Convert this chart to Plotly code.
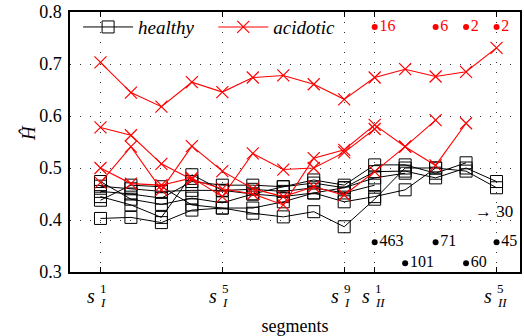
import plotly.graph_objects as go

# ---------------- data ----------------
segments = list(range(1, 15))  # s_I^1..s_I^9 -> 1..9, s_II^1..s_II^5 -> 10..14

healthy_series = [
    [0.465, 0.460, 0.455, 0.457, 0.457, 0.459, 0.455, 0.462, 0.452, 0.467],
    [0.455, 0.450, 0.442, 0.474, 0.467, 0.467, 0.464, 0.471, 0.462, 0.481, 0.490],
    [0.474, 0.440, 0.430, 0.442, 0.433, 0.450, 0.445, 0.452, 0.435, 0.445, 0.458, 0.500],
    [0.445, 0.429, 0.405, 0.487, 0.457, 0.450, 0.464, 0.477, 0.467, 0.506, 0.506, 0.490, 0.510],
    [0.438, 0.467, 0.464, 0.429, 0.423, 0.423, 0.435, 0.452, 0.462, 0.493, 0.494, 0.481, 0.500, 0.474],
    [0.403, 0.405, 0.395, 0.419, 0.423, 0.413, 0.406, 0.416, 0.387, 0.440, 0.500, 0.500, 0.494, 0.462],
]

acidotic_series = [
    [0.703, 0.645, 0.618, 0.665, 0.646, 0.674, 0.678, 0.661, 0.632, 0.674, 0.690, 0.676, 0.685, 0.731],
    [0.578, 0.563, 0.508, 0.478, 0.460, 0.450, 0.429, 0.519, 0.535, 0.583, 0.541, 0.505, 0.586],
    [0.472, 0.541, 0.458, 0.542, 0.494, 0.460, 0.445, 0.464, 0.448, 0.493, 0.541, 0.592],
    [0.500, 0.470, 0.467, 0.481, 0.445, 0.528, 0.497, 0.500, 0.530, 0.575],
]

acid_count_x = [10, 12, 13, 14]
acid_counts = [16, 6, 2, 2]
acid_count_y = [0.771, 0.771, 0.771, 0.771]

healthy_count_x = [10, 11, 12, 13, 14]
healthy_counts = [463, 101, 71, 60, 45]
healthy_count_y = [0.357, 0.317, 0.357, 0.317, 0.357]

beyond_label = "→ 30"
beyond_x = 13.93
beyond_y = 0.416

tick_pos = [1, 5, 9, 10, 14]
tick_sup = ["1", "5", "9", "1", "5"]
tick_sub = ["I", "I", "I", "II", "II"]

FONT = "Liberation Serif"
NB = "\u00a0"

fig = go.Figure()

for i, ys in enumerate(healthy_series):
    fig.add_trace(go.Scatter(
        x=segments[:len(ys)], y=ys, mode="lines+markers",
        line=dict(color="black", width=1),
        marker=dict(symbol="square-open", size=12, color="black", line=dict(width=1, color="black")),
        name="<i>healthy</i>" + NB * 3, legendgroup="h", showlegend=(i == 0),
    ))

for i, ys in enumerate(acidotic_series):
    fig.add_trace(go.Scatter(
        x=segments[:len(ys)], y=ys, mode="lines+markers",
        line=dict(color="red", width=1.1),
        marker=dict(symbol="x-thin-open", size=12, color="red", line=dict(width=1.2, color="red")),
        name="<i>acidotic</i>", legendgroup="a", showlegend=(i == 0),
    ))

# counts
fig.add_trace(go.Scatter(
    x=acid_count_x, y=acid_count_y, mode="markers+text",
    marker=dict(symbol="circle", size=6, color="red"),
    text=[str(c) for c in acid_counts], textposition="middle right",
    textfont=dict(family=FONT, size=16, color="red"), showlegend=False, cliponaxis=False,
))
fig.add_trace(go.Scatter(
    x=healthy_count_x, y=healthy_count_y, mode="markers+text",
    marker=dict(symbol="circle", size=6, color="black"),
    text=[str(c) for c in healthy_counts], textposition="middle right",
    textfont=dict(family=FONT, size=16, color="black"), showlegend=False, cliponaxis=False,
))

fig.add_annotation(x=beyond_x, y=beyond_y, xref="x", yref="y", text=beyond_label,
                   showarrow=False, font=dict(family=FONT, size=17, color="black"))

# x tick labels: s with stacked super/subscripts
for p, sp, sb in zip(tick_pos, tick_sup, tick_sub):
    fig.add_annotation(x=p, y=0, xref="x", yref="paper", text="<i>s</i>", showarrow=False,
                       xanchor="right", yanchor="middle", xshift=-3, yshift=-24,
                       font=dict(family=FONT, size=20, color="black"))
    fig.add_annotation(x=p, y=0, xref="x", yref="paper", text=sp, showarrow=False,
                       xanchor="left", yanchor="middle", xshift=-2, yshift=-16,
                       font=dict(family=FONT, size=13, color="black"))
    fig.add_annotation(x=p, y=0, xref="x", yref="paper", text="<i>" + sb + "</i>", showarrow=False,
                       xanchor="left", yanchor="middle", xshift=-2, yshift=-30,
                       font=dict(family=FONT, size=13, color="black"))

# y-axis title
fig.add_annotation(x=0, y=0.5, xref="paper", yref="paper", text="<i>Ĥ</i>", showarrow=False,
                   textangle=-90, xanchor="center", yanchor="middle", xshift=-42, yshift=9,
                   font=dict(family=FONT, size=19, color="black"))

fig.update_layout(
    width=524, height=336,
    margin=dict(l=70, r=4, t=12, b=64, autoexpand=False),
    paper_bgcolor="white", plot_bgcolor="white",
    font=dict(family=FONT, size=15, color="black"),
    showlegend=True,
    legend=dict(orientation="h", x=0.018, y=1.015, xanchor="left", yanchor="top",
                bgcolor="rgba(0,0,0,0)", font=dict(family=FONT, size=19),
                itemwidth=50, tracegroupgap=0),
    xaxis=dict(range=[0, 14.77], tickvals=tick_pos, showticklabels=False, automargin=False,
               showgrid=True, gridcolor="#333", griddash="1px,9px", gridwidth=1,
               showline=True, linecolor="black", linewidth=1.5, mirror="ticks",
               ticks="inside", ticklen=5, tickcolor="black", zeroline=False,
               title=dict(text="segments", font=dict(family=FONT, size=18), standoff=48)),
    yaxis=dict(range=[0.3, 0.8], dtick=0.1, tickformat=".1f", automargin=False,
               showgrid=True, gridcolor="#333", griddash="1px,9px", gridwidth=1,
               showline=True, linecolor="black", linewidth=1.5, mirror=True,
               ticks="", ticklen=0, ticklabelstandoff=3, zeroline=False,
               tickfont=dict(family=FONT, size=18)),
)

fig.write_html("out.html", config={"displayModeBar": False},
               post_script="document.body.style.margin='0px';")
